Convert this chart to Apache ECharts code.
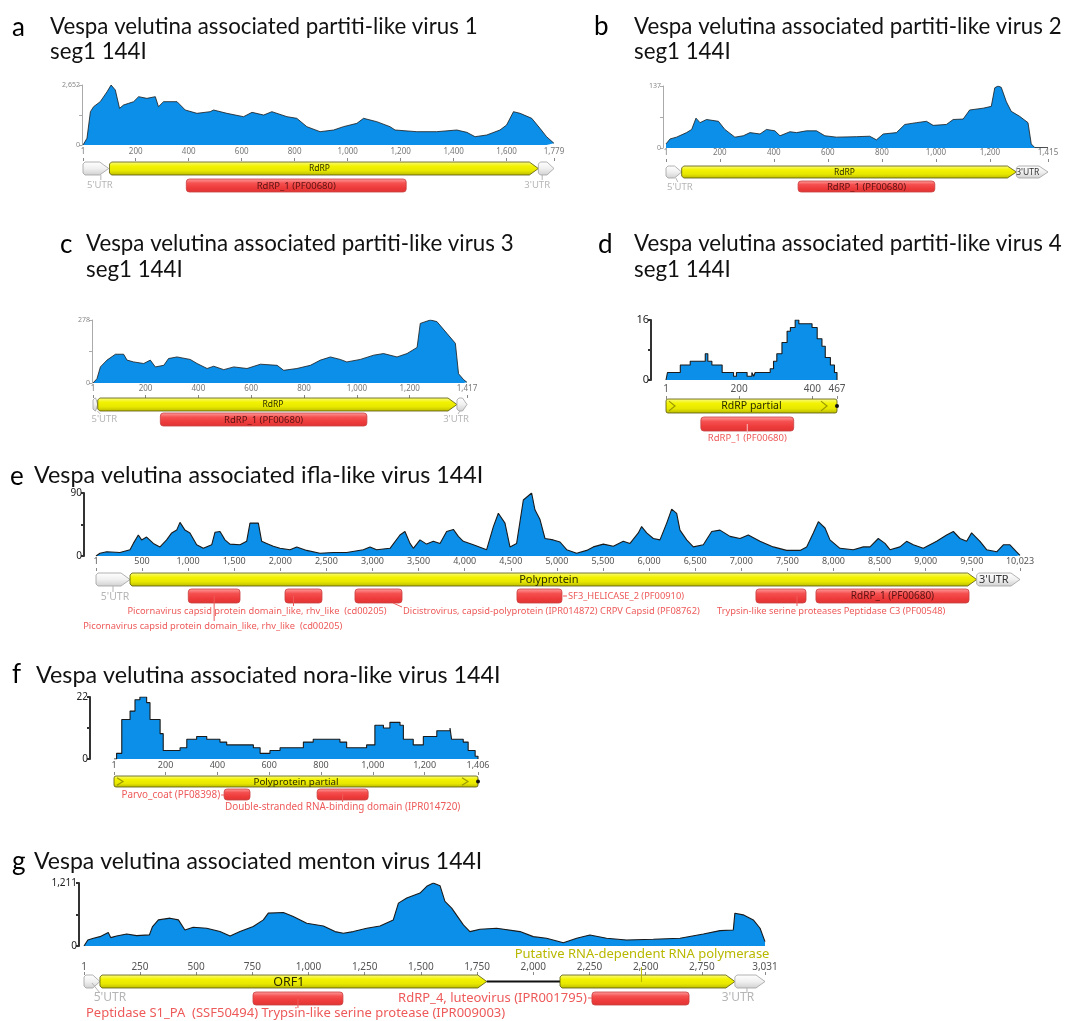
<!DOCTYPE html>
<html><head><meta charset="utf-8">
<script src="https://cdn.jsdelivr.net/npm/echarts@6/dist/echarts.min.js"></script>
<style>html,body{margin:0;padding:0;background:#fff}#c{width:1067px;height:1021px}</style>
</head><body><div id="c"></div>
<script>
// ---------------- DATA ----------------
const aCoverage = [[1,0],[16,300],[29,1473],[41,1694],[66,1915],[92,2357],[107,2652],[123,2431],[139,1620],[154,1768],[173,1841],[192,1915],[211,2136],[242,2062],[274,2136],[286,1694],[305,1915],[356,1915],[387,1547],[431,1400],[481,1473],[494,1547],[544,1400],[607,1252],[639,1444],[683,1326],[714,1473],[771,1252],[808,1179],[846,810],[896,589],[947,663],[984,810],[1035,958],[1060,1179],[1110,1031],[1160,810],[1179,663],[1261,589],[1336,589],[1412,663],[1450,560],[1481,368],[1525,442],[1575,663],[1600,884],[1626,1473],[1651,1400],[1695,1179],[1726,737],[1751,368],[1779,74]];
const bCoverage = [[1,9],[16,20],[40,24],[77,34],[96,41],[112,66],[127,56],[151,63],[195,59],[219,41],[256,24],[287,27],[312,34],[349,31],[373,41],[404,38],[423,27],[460,36],[484,34],[521,38],[558,38],[589,27],[632,24],[706,25],[755,26],[780,18],[805,31],[854,34],[885,52],[928,56],[965,59],[990,50],[1039,52],[1064,63],[1101,64],[1125,84],[1175,88],[1205,92],[1218,133],[1230,137],[1242,134],[1261,102],[1279,81],[1310,70],[1341,56],[1353,9],[1366,1],[1415,1]];
const cCoverage = [[1,0],[16,19],[29,71],[54,101],[86,127],[117,127],[130,101],[155,93],[193,86],[218,101],[237,71],[269,78],[287,108],[319,115],[369,104],[395,86],[433,64],[458,74],[496,59],[534,71],[584,64],[635,83],[698,78],[723,56],[773,64],[824,78],[862,101],[900,115],[937,104],[962,93],[1013,104],[1064,123],[1101,130],[1152,115],[1190,130],[1228,157],[1240,263],[1278,278],[1303,271],[1341,219],[1373,175],[1385,41],[1404,15],[1417,3]];
const dCoverage = [[1,0],[5,2],[40,4],[67,5],[108,7],[115,5],[126,4],[154,2],[185,1],[193,2],[222,1],[235,2],[240,1],[244,2],[285,3],[294,5],[303,7],[317,10],[331,13],[340,14],[353,16],[363,15],[399,14],[413,11],[426,9],[435,6],[449,4],[460,2],[467,0]];
const eCoverage = [[1,0],[44,4],[117,6],[261,5],[370,9],[406,18],[460,30],[496,23],[550,27],[623,18],[695,13],[767,23],[822,33],[876,37],[912,48],[966,37],[1020,33],[1093,16],[1165,11],[1256,16],[1292,34],[1346,35],[1400,23],[1454,17],[1563,16],[1635,21],[1671,47],[1762,47],[1798,21],[1852,18],[1924,14],[1997,11],[2105,9],[2178,13],[2286,8],[2430,4],[2575,5],[2720,5],[2900,9],[2973,13],[3045,9],[3190,11],[3298,30],[3352,35],[3407,18],[3443,11],[3515,23],[3587,17],[3660,21],[3732,18],[3804,35],[3877,38],[3931,28],[3985,21],[4094,16],[4238,9],[4311,42],[4365,61],[4437,47],[4491,13],[4563,18],[4636,80],[4726,90],[4762,66],[4817,52],[4871,25],[4961,23],[5034,20],[5106,9],[5214,4],[5323,8],[5395,13],[5504,17],[5612,14],[5720,21],[5793,18],[5883,33],[5919,42],[5974,33],[6046,25],[6118,23],[6191,47],[6245,67],[6299,61],[6335,37],[6408,23],[6480,13],[6588,16],[6679,35],[6769,37],[6878,28],[6986,25],[7076,30],[7203,21],[7347,13],[7492,8],[7637,8],[7709,13],[7781,33],[7836,49],[7908,40],[7962,23],[8070,11],[8215,9],[8324,13],[8396,13],[8486,25],[8559,18],[8613,9],[8721,13],[8793,21],[8866,16],[8974,11],[9119,21],[9227,30],[9300,35],[9372,25],[9444,21],[9498,33],[9589,21],[9661,9],[9770,6],[9842,16],[9914,16],[9986,6],[10023,1]];
const fCoverage = [[1,0],[11,2],[31,14],[63,17],[82,21],[101,22],[127,20],[140,14],[179,9],[191,3],[217,3],[256,4],[282,7],[320,8],[359,7],[410,6],[436,5],[487,5],[539,4],[565,2],[603,3],[642,4],[693,4],[732,6],[770,7],[822,7],[873,6],[899,4],[938,4],[976,5],[1008,12],[1041,11],[1066,13],[1105,12],[1118,7],[1156,5],[1195,8],[1247,10],[1298,11],[1304,7],[1349,6],[1368,3],[1395,1],[1406,0]];
const gCoverage = [[1,0],[18,116],[43,148],[72,180],[109,258],[120,161],[146,193],[191,232],[235,200],[292,213],[306,374],[332,502],[384,535],[421,502],[450,309],[487,361],[547,341],[606,277],[651,193],[695,277],[754,374],[799,502],[821,631],[888,644],[932,567],[992,438],[1066,386],[1118,277],[1155,245],[1199,277],[1259,341],[1318,386],[1377,502],[1400,824],[1437,921],[1496,1018],[1526,1147],[1555,1211],[1585,1160],[1607,857],[1637,728],[1689,406],[1718,277],[1763,322],[1837,341],[1941,277],[2000,180],[2059,148],[2134,64],[2193,148],[2252,213],[2326,148],[2415,116],[2534,129],[2653,148],[2757,232],[2831,296],[2890,309],[2897,631],[2934,599],[2979,502],[3009,341],[3031,84]];

const aFeatures = [["5'UTR",1,98,'utr'],["RdRP",101,1720,'cds'],["3'UTR",1720,1779,'utr'],["RdRP_1 (PF00680)",391,1221,'domain']];
const bFeatures = [["5'UTR",1,59,'utr'],["RdRP",59,1298,'cds'],["3'UTR",1298,1415,'utr'],["RdRP_1 (PF00680)",490,996,'domain']];
const cFeatures = [["5'UTR",1,19,'utr'],["RdRP",19,1379,'cds'],["3'UTR",1379,1417,'utr'],["RdRP_1 (PF00680)",256,1038,'domain']];
const dFeatures = [["RdRP partial",1,467,'partial'],["RdRP_1 (PF00680)",96,349,'domain']];
const eFeatures = [["5'UTR",1,370,'utr'],["Polyprotein",370,9553,'cds'],["3'UTR",9553,10023,'utr'],
  ["Picornavirus capsid protein domain_like, rhv_like  (cd00205)",1002,1563,'domain'],
  ["Picornavirus capsid protein domain_like, rhv_like  (cd00205)",2051,2452,'domain'],
  ["Dicistrovirus, capsid-polyprotein (IPR014872) CRPV Capsid (PF08762)",2810,3320,'domain'],
  ["SF3_HELICASE_2 (PF00910)",4567,5055,'domain'],
  ["Trypsin-like serine proteases Peptidase C3 (PF00548)",7159,7702,'domain'],
  ["RdRP_1 (PF00680)",7810,9470,'domain']];
const fFeatures = [["Polyprotein partial",1,1406,'partial'],["Parvo_coat (PF08398)",426,526,'domain'],["Double-stranded RNA-binding domain (IPR014720)",785,982,'domain']];
const gFeatures = [["5'UTR",1,72,'utr'],["ORF1",72,1793,'cds'],["",1793,2119,'link'],["Putative RNA-dependent RNA polymerase",2119,2897,'cds'],["3'UTR",2897,3031,'utr'],
  ["Peptidase S1_PA  (SSF50494) Trypsin-like serine protease (IPR009003)",753,1153,'domain'],["RdRP_4, luteovirus (IPR001795)",2261,2693,'domain']];

const aTicks = [1,200,400,600,800,1000,1200,1400,1600,1779];
const bTicks = [1,200,400,600,800,1000,1200,1415];
const cTicks = [1,200,400,600,800,1000,1200,1417];
const dTicks = [1,200,400,467];
const eTicks = [1,500,1000,1500,2000,2500,3000,3500,4000,4500,5000,5500,6000,6500,7000,7500,8000,8500,9000,9500,10023];
const fTicks = [1,200,400,600,800,1000,1200,1406];
const gTicks = [1,250,500,750,1000,1250,1500,1750,2000,2250,2500,2750,3031];

const yMaxima = {a:2652, b:137, c:278, d:16, e:90, f:22, g:1211};
const seqLengths = {a:1779, b:1415, c:1417, d:467, e:10023, f:1406, g:3031};

const panelLetters = ['a','b','c','d','e','f','g'];
const titleLines = {
  a:['Vespa velutina associated partiti-like virus 1','seg1 144I'],
  b:['Vespa velutina associated partiti-like virus 2','seg1 144I'],
  c:['Vespa velutina associated partiti-like virus 3','seg1 144I'],
  d:['Vespa velutina associated partiti-like virus 4','seg1 144I'],
  e:['Vespa velutina associated ifla-like virus 144I'],
  f:['Vespa velutina associated nora-like virus 144I'],
  g:['Vespa velutina associated menton virus 144I']
};

// ---------------- LAYOUT / STYLE ----------------
const COV = {a:aCoverage,b:bCoverage,c:cCoverage,d:dCoverage,e:eCoverage,f:fCoverage,g:gCoverage};
const FEATURES = {a:aFeatures,b:bFeatures,c:cFeatures,d:dFeatures,e:eFeatures,f:fFeatures,g:gFeatures};
const TICKS = {a:aTicks,b:bTicks,c:cTicks,d:dTicks,e:eTicks,f:fTicks,g:gTicks};

const light = {tickFs:8, tickCol:'#777', yFs:7, yCol:'#888', axCol:'#aaa', axW:1, inFs:8.5, domInFs:9.5, labFs:9, utrFs:9.5, lw:0.8, tFs:22.3, tMargin:2};
const dark = {tickFs:9, tickCol:'#555', yFs:10, yCol:'#222', axCol:'#333', axW:2, lw:1.1, tFs:23.3, tMargin:2};
const LAYOUT = {
  a: Object.assign({}, light, {cov:[83,85,471,60], yOff:1, feat:[158,40], cds:[4,13], dom:[21,13]}),
  b: Object.assign({}, light, {cov:[666,86,382,62], yOff:3, feat:[159,40], cds:[7,12], dom:[22,11]}),
  c: Object.assign({}, light, {cov:[93,320,374,63], yOff:1, feat:[395,36], cds:[3,13], dom:[18,13]}),
  d: Object.assign({}, dark, {cov:[666,320,171,60], yOff:15, feat:[396,50], cds:[3,14], dom:[21,14], tickFs:10, yFs:11, inFs:10.5, domInFs:9, labFs:9.5, step:true, tFs:22.3}),
  e: Object.assign({}, dark, {cov:[96,493,924,63], yOff:12, feat:[568,66], cds:[5,13], dom:[21,14], inFs:11, domInFs:10, labFs:9.3, utrFs:10.5}),
  f: Object.assign({}, dark, {cov:[114,697,364,62], yOff:24, feat:[772,45], cds:[4,11], dom:[17,11], inFs:9.8, labFs:9.9, step:true}),
  g: Object.assign({}, dark, {cov:[84,883,681,63], yOff:5, feat:[972,50], cds:[3,13], dom:[20,13], tickFs:10, inFs:12.5, labFs:13, utrFs:12, tMargin:0, tFs:23})
};
const GREY='#b5b5b5', PINK='#ee5a5a', OLIVE='#b8b800';
const LABELS = {
  a:[{a:'c',dx:4,y:27,c:GREY,ld:[5,17,5,22]},{in:1},{a:'c',dx:-9,y:27,c:GREY,ld:[-4,17,-4,22]},{in:1}],
  b:[{a:'c',dx:6,y:28,c:GREY,ld:[2,19,4,23]},{in:1},{in:1,c:'#333'},{in:1}],
  c:[{a:'c',dx:9,y:24,c:GREY,ld:[2,16,5,19]},{in:1},{a:'c',dx:-6,y:24,c:GREY,ld:[-2,16,-4,19]},{in:1}],
  d:[{in:1},{a:'c',dx:0,y:42,c:PINK,ld:[0,28,0,37],ldc:'#f8c0c0'}],
  e:[{a:'c',dx:2,y:29,c:GREY,ld:[0,18,0,24]},{in:1},{in:1,c:'#333'},
     {a:'c',dx:-131,y:58,al:'left',c:PINK,ld:[0,28,0,53]},
     {a:'c',dx:-176,y:43,al:'left',c:PINK,ld:[-10,28,-10,38]},
     {a:'e',dx:1,y:43,al:'left',c:PINK,ld:[-9,35,0,39]},
     {a:'e',dx:6,y:28,al:'left',c:PINK,ld:[1,28,5,28]},
     {a:'e',dx:-89,y:43,al:'left',c:PINK,ld:[-9,28,-9,38]},
     {in:1}],
  f:[{in:1},{a:'s',dx:-4,y:23,al:'right',c:PINK,ld:[-3,23,0,23]},{a:'c',dx:0,y:35,c:PINK,ld:[0,22,0,30]}],
  g:[{a:'c',dx:18,y:26,c:GREY,ld:[0,11,8,21]},{in:1},{},
     {a:'c',dx:122,y:-18,al:'right',c:OLIVE,ld:[-6,-5,-6,10]},
     {a:'c',dx:-12,y:26,c:GREY,ld:[-3,16,-3,21]},
     {a:'c',dx:-212,y:41,al:'left',c:PINK,ld:[0,27,0,36]},
     {a:'s',dx:-5,y:26,al:'right',c:PINK,ld:[-4,26,0,26]}]
};
const TITLE_POS = {a:{L:[12,28],T:[50,27],S:[50,52]}, b:{L:[594,27],T:[634,27],S:[634,52]},
  c:{L:[60,245],T:[86,244],S:[86,270]}, d:{L:[598,245],T:[634,244],S:[634,270]},
  e:{L:[10,477],T:[34,475]}, f:{L:[12,675],T:[36,675]}, g:{L:[12,862],T:[34,862]}};

const FAM = '"Noto Sans", sans-serif';
const TFAM = 'Lato, "Noto Sans", sans-serif';
const fmt = v => String(Math.round(v)).replace(/\B(?=(\d{3})+(?!\d))/g, ',');
const grad = stops => new echarts.graphic.LinearGradient(0,0,0,1, stops.map((c,i)=>({offset:i/(stops.length-1), color:c})));

// ---------------- BUILD ----------------
const grids=[], xAxes=[], yAxes=[], series=[], graphics=[];
panelLetters.forEach((k, pi) => {
  const st = LAYOUT[k], L = seqLengths[k], M = yMaxima[k];
  const gCov = pi*2, gFeat = pi*2+1;
  grids.push({left:st.cov[0], top:st.cov[1], width:st.cov[2], height:st.cov[3], outerBoundsMode:'none'});
  grids.push({left:st.cov[0], top:st.feat[0], width:st.cov[2], height:st.feat[1], outerBoundsMode:'none'});
  xAxes.push({gridIndex:gCov, type:'value', min:1, max:L, show:false});
  xAxes.push({gridIndex:gFeat, type:'value', min:1, max:L, position:'top',
    axisLine:{show:false}, splitLine:{show:false},
    axisTick:{show:true, inside:true, length:3, customValues:TICKS[k], lineStyle:{color:'#888', width:1}},
    axisLabel:{show:true, customValues:TICKS[k], formatter:fmt, margin:st.tMargin, fontSize:st.tickFs, color:st.tickCol, fontFamily:FAM}});
  yAxes.push({gridIndex:gCov, type:'value', min:0, max:M, offset:st.yOff,
    axisLine:{show:true, lineStyle:{color:st.axCol, width:st.axW}},
    axisTick:{show:true, length:3, customValues:[0, M/2, M], lineStyle:{color:st.axCol, width:st.axW}},
    axisLabel:{show:true, customValues:[0, M], formatter:fmt, margin:2, fontSize:st.yFs, color:st.yCol, fontFamily:FAM},
    splitLine:{show:false}});
  yAxes.push({gridIndex:gFeat, type:'value', min:0, max:st.feat[1], inverse:true, show:false});

  series.push({type:'line', xAxisIndex:gCov, yAxisIndex:gCov, data:COV[k], symbol:'none', silent:true,
    step: st.step ? 'end' : false, lineStyle:{color:'#1b1b1b', width:st.lw},
    areaStyle:{color:'#0b8fe8', opacity:1}, z:2});

  const feats = FEATURES[k], labs = LABELS[k];
  series.push({type:'custom', xAxisIndex:gFeat, yAxisIndex:gFeat, clip:false, silent:true, z:5,
    data: feats.map((f,i)=>[f[1], f[2], i]),
    encode:{x:[0,1]},
    renderItem: function(params, api){
      const i = api.value(2), f = feats[i], kind = f[3], lab = labs[i] || {};
      const s = api.value(0), e = api.value(1);
      const row = kind==='domain' ? st.dom : st.cds;
      const Y = v => api.coord([s, v])[1];
      const x0 = api.coord([s,0])[0], x1 = api.coord([e,0])[0];
      const y0 = Y(row[0]), y1 = Y(row[0]+row[1]), ym = (y0+y1)/2;
      const kids = [];
      let head = 0;
      if (kind==='cds' || kind==='utr') {
        head = Math.min(9, (x1-x0)*0.45);
        const pts = [[x0,y0+2],[x0+2,y0],[x1-head,y0],[x1,ym],[x1-head,y1],[x0+2,y1],[x0,y1-2]];
        kids.push({type:'polygon', shape:{points:pts}, style:{
          fill: kind==='cds' ? grad(['#fbfb8a','#f2f200','#e8e800','#b8b800']) : grad(['#ffffff','#f0f0f0','#d0d0d0']),
          stroke: kind==='cds' ? '#55550a' : '#a0a0a0', lineWidth:0.8}});
      } else if (kind==='partial') {
        kids.push({type:'rect', shape:{x:x0, y:y0, width:x1-x0, height:y1-y0, r:2}, style:{
          fill: grad(['#fbfb8a','#f2f200','#e8e800','#b8b800']), stroke:'#55550a', lineWidth:0.8}});
        const h = (y1-y0)*0.35;
        [[x0+3, x0+9],[x1-16, x1-10]].forEach(c => kids.push({type:'polyline',
          shape:{points:[[c[0],ym-h],[c[1],ym],[c[0],ym+h]]}, style:{stroke:'#9a9a00', lineWidth:1.2, fill:null}}));
        kids.push({type:'circle', shape:{cx:x1, cy:ym, r:2}, style:{fill:'#111'}});
      } else if (kind==='link') {
        kids.push({type:'line', shape:{x1:x0, y1:ym, x2:x1, y2:ym}, style:{stroke:'#111', lineWidth:2}});
      } else if (kind==='domain') {
        kids.push({type:'rect', shape:{x:x0, y:y0, width:x1-x0, height:y1-y0, r:3}, style:{
          fill: grad(['#ffa0a0','#f55050','#ee3b3b','#e03434']), stroke:'#c84040', lineWidth:0.8}});
      }
      if (lab.in) {
        const cx = (x0 + x1 - head)/2;
        kids.push({type:'text', style:{text:f[0], x:cx, y:ym+0.5, align:'center', verticalAlign:'middle',
          fill: lab.c || (kind==='domain' ? '#5a1212' : '#2b2b00'),
          font: ((kind==='domain' ? st.domInFs : st.inFs) || 8) + 'px ' + FAM}});
      } else if (lab.a) {
        const ax = lab.a==='s' ? x0 : lab.a==='e' ? x1 : (x0+x1)/2;
        if (lab.ld) kids.push({type:'line', shape:{x1:ax+lab.ld[0], y1:Y(lab.ld[1]), x2:ax+lab.ld[2], y2:Y(lab.ld[3])},
          style:{stroke: lab.ldc || lab.c, lineWidth:1}});
        const fs = (kind==='utr') ? (st.utrFs || st.labFs) : st.labFs;
        kids.push({type:'text', style:{text:f[0], x:ax+lab.dx, y:Y(lab.y), align:lab.al||'center', verticalAlign:'middle',
          fill:lab.c, font: fs + 'px ' + FAM}});
      }
      return {type:'group', children:kids};
    }
  });

  const tp = TITLE_POS[k], tl = titleLines[k];
  graphics.push({type:'text', x:tp.L[0], y:tp.L[1], style:{text:k, font:'26px '+TFAM, fill:'#000', verticalAlign:'middle'}});
  graphics.push({type:'text', x:tp.T[0], y:tp.T[1], style:{text:tl[0], font:st.tFs+'px '+TFAM, fill:'#111', verticalAlign:'middle'}});
  if (tl[1]) graphics.push({type:'text', x:tp.S[0], y:tp.S[1], style:{text:tl[1], font:st.tFs+'px '+TFAM, fill:'#111', verticalAlign:'middle'}});
});

const chart = echarts.init(document.getElementById('c'), null, {renderer:'canvas'});
chart.setOption({animation:false, backgroundColor:'#fff', grid:grids, xAxis:xAxes, yAxis:yAxes, series:series, graphic:graphics});
</script></body></html>
